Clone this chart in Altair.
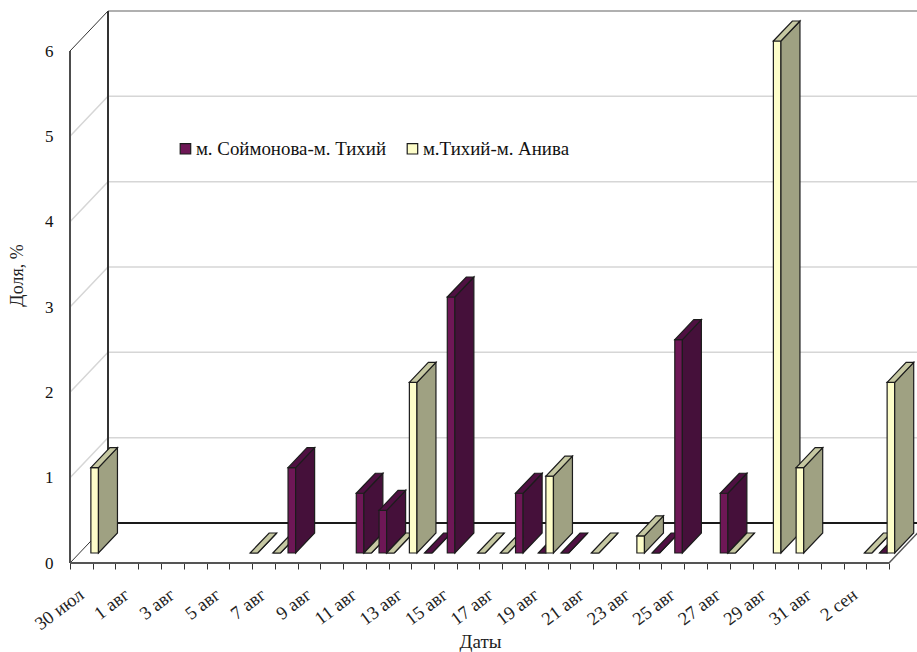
import altair as alt
import pandas as pd

# Daily shares for the two coastal sections; None marks a day with no survey.
dates = ["30 июл", "31 июл"] + [f"{d} авг" for d in range(1, 32)] + ["1 сен", "2 сен", "3 сен"]
soimonova_tikhiy = [None, None, None, None, None, None, None, None, None, 1.0, None, None,
                    0.7, 0.5, None, 0.0, 3.0, None, None, 0.7, 0.0, 0.0, None, None,
                    None, 0.0, 2.5, None, 0.7, None, None, None, None, None, None, 0.0]
tikhiy_aniva = [1.0, None, None, None, None, None, None, 0.0, 0.0, None, None, None,
                0.0, 0.0, 2.0, None, None, 0.0, 0.0, None, 0.9, None, 0.0, None,
                0.2, None, None, None, 0.0, None, 6.0, 1.0, None, None, 0.0, 2.0]
series_names = ["м. Соймонова-м. Тихий", "м.Тихий-м. Анива"]
y_ticks = [0, 1, 2, 3, 4, 5, 6]

# Plot frame and oblique projection, in axis units.
PX_PER_CAT = 22.75
PX_PER_UNIT = 85.33
PLOT_W, PLOT_H = 847, 552
X_MAX = PLOT_W / PX_PER_CAT
Y_MAX = PLOT_H / PX_PER_UNIT
DEPTH_X = 38 / PX_PER_CAT
DEPTH_Y = 40 / PX_PER_UNIT
BAR_W = 1 / 3
FONT = "Liberation Serif"

palette = [
    {"front": "#6e1756", "side": "#45103a", "top": "#4f1042"},
    {"front": "#fdfdc9", "side": "#9fa182", "top": "#c6c8a2"},
]

# Walls and floor edges of the box.
frame_rows = []


def segment(name, points, colour, width):
    for px, py in points:
        frame_rows.append({"seg": name, "x": px, "y": py, "stroke": colour, "w": width})


for v in y_ticks[1:-1]:
    segment(f"grid{v}", [(0, v), (DEPTH_X, v + DEPTH_Y), (X_MAX, v + DEPTH_Y)], "#d6d6d6", 1.5)
segment("ceiling", [(DEPTH_X, 6 + DEPTH_Y), (X_MAX, 6 + DEPTH_Y)], "#b0b0b0", 2)
segment("roof edge", [(0, 6), (DEPTH_X, 6 + DEPTH_Y)], "#333333", 1)
segment("front wall", [(0, 0), (0, 6)], "#4d4d4d", 2)
segment("back wall", [(DEPTH_X, DEPTH_Y), (DEPTH_X, 6 + DEPTH_Y)], "#333333", 2)
segment("floor back", [(DEPTH_X, DEPTH_Y), (X_MAX, DEPTH_Y)], "#1a1a1a", 2)
segment("floor left", [(0, 0), (DEPTH_X, DEPTH_Y)], "#333333", 1)
segment("floor front", [(0, 0), (36, 0)], "#555555", 2)
segment("floor right", [(36, 0), (36 + DEPTH_X, DEPTH_Y)], "#555555", 1.5)
frame = pd.DataFrame(frame_rows)

# Each bar becomes three projected faces, listed left to right so nearer bars paint last.
face_rows = []
base_x, base_y = DEPTH_X * 0.25, DEPTH_Y * 0.25
bar_dx, bar_dy = DEPTH_X * 0.5, DEPTH_Y * 0.5


def add_bar(cat, slot, value):
    left = cat + BAR_W * (0.5 + slot) + base_x
    right = left + BAR_W
    bottom, top = base_y, base_y + value
    bid = f"{cat:02d}-{slot}"
    cols = palette[slot]
    for px, y0, y1 in [(left, bottom, top), (right, bottom, top)]:
        face_rows.append({"id": bid + "f", "x": px, "y": y1, "y2": y0, "fill": cols["front"]})
    for px, y0, y1 in [(right, bottom, top), (right + bar_dx, bottom + bar_dy, top + bar_dy)]:
        face_rows.append({"id": bid + "s", "x": px, "y": y1, "y2": y0, "fill": cols["side"]})
    rise = bar_dy * BAR_W / bar_dx
    for px, y0, y1 in [
        (left, top, top),
        (right, top, top + rise),
        (left + bar_dx, top + bar_dy - rise, top + bar_dy),
        (right + bar_dx, top + bar_dy, top + bar_dy),
    ]:
        face_rows.append({"id": bid + "t", "x": px, "y": y1, "y2": y0, "fill": cols["top"]})


for cat in range(len(dates)):
    for slot, values in enumerate([soimonova_tikhiy, tikhiy_aniva]):
        if values[cat] is not None:
            add_bar(cat, slot, values[cat])
faces = pd.DataFrame(face_rows)

x_scale = alt.Scale(domain=[0, X_MAX], nice=False, zero=False)
y_scale = alt.Scale(domain=[0, Y_MAX], nice=False, zero=False)

# Ticks sit between days; each label is nudged to the middle of its day.
label_list = ",".join(f"'{d}'" if i % 2 == 0 else "''" for i, d in enumerate(dates))
x_axis = alt.Axis(
    title="Даты",
    values=list(range(37)),
    grid=False,
    domain=False,
    tickSize=6,
    tickColor="#333333",
    tickWidth=1,
    labelExpr=f"[{label_list}][datum.value] || ''",
    labelAngle=-37,
    labelAlign="right",
    labelBaseline="middle",
    labelOffset=11,
    labelPadding=23,
    labelFont=FONT,
    labelFontSize=18.5,
    labelColor="#222222",
    labelOverlap=False,
    labelFlush=False,
    labelBound=False,
    titleFont=FONT,
    titleFontSize=19,
    titleFontWeight="normal",
    titleColor="#222222",
    titleX=410,
    titleY=69,
)
y_axis = alt.Axis(
    title="Доля, %",
    values=y_ticks,
    grid=False,
    domain=False,
    tickSize=0,
    labelPadding=17,
    labelFont=FONT,
    labelFontSize=17,
    labelColor="#111111",
    titleFont=FONT,
    titleFontSize=18,
    titleFontWeight="normal",
    titleColor="#222222",
    titleX=-44,
    titleY=264,
)

walls = (
    alt.Chart(frame)
    .mark_line(clip=False)
    .encode(
        x=alt.X("x:Q", scale=x_scale, axis=x_axis),
        y=alt.Y("y:Q", scale=y_scale, axis=y_axis),
        detail="seg:N",
        order=alt.Order("row:Q"),
        stroke=alt.Stroke("stroke:N", scale=None),
        strokeWidth=alt.StrokeWidth("w:Q", scale=None),
    )
    .transform_window(row="row_number()", groupby=["seg"])
)

bars = (
    alt.Chart(faces)
    .mark_area(orient="vertical", stroke="#1c1c1c", strokeWidth=1.2, interpolate="linear")
    .encode(
        x=alt.X("x:Q", scale=x_scale, axis=x_axis),
        y=alt.Y("y:Q", scale=y_scale, axis=y_axis, stack=None),
        y2="y2:Q",
        detail="id:N",
        fill=alt.Fill("fill:N", scale=None),
    )
)

legend_df = pd.DataFrame({"series": series_names, "x": [0, 0], "y": [0, 0]})
legend_layer = (
    alt.Chart(legend_df)
    .mark_square(size=0)
    .encode(
        x=alt.X("x:Q", scale=x_scale, axis=x_axis),
        y=alt.Y("y:Q", scale=y_scale, axis=y_axis),
        color=alt.Color(
            "series:N",
            sort=series_names,
            scale=alt.Scale(domain=series_names, range=[palette[0]["front"], palette[1]["front"]]),
            legend=alt.Legend(
                title=None,
                orient="none",
                legendX=106,
                legendY=128,
                direction="horizontal",
                columns=2,
                columnPadding=17,
                symbolType="square",
                symbolSize=110,
                symbolStrokeColor="#1c1c1c",
                symbolStrokeWidth=1.2,
                symbolOpacity=1,
                labelFont=FONT,
                labelFontSize=18.9,
                labelColor="#111111",
                labelOffset=1,
                labelLimit=300,
                padding=0,
            ),
        ),
    )
)

chart = (
    alt.layer(walls, bars, legend_layer)
    .properties(
        width=PLOT_W,
        height=PLOT_H,
        background="white",
        autosize=alt.AutoSizeParams(type="none"),
        padding={"left": 70, "top": 11, "right": 0, "bottom": 89},
    )
    .configure_view(stroke=None)
)

chart.save("out.html", embed_options={"renderer": "svg", "actions": False})
